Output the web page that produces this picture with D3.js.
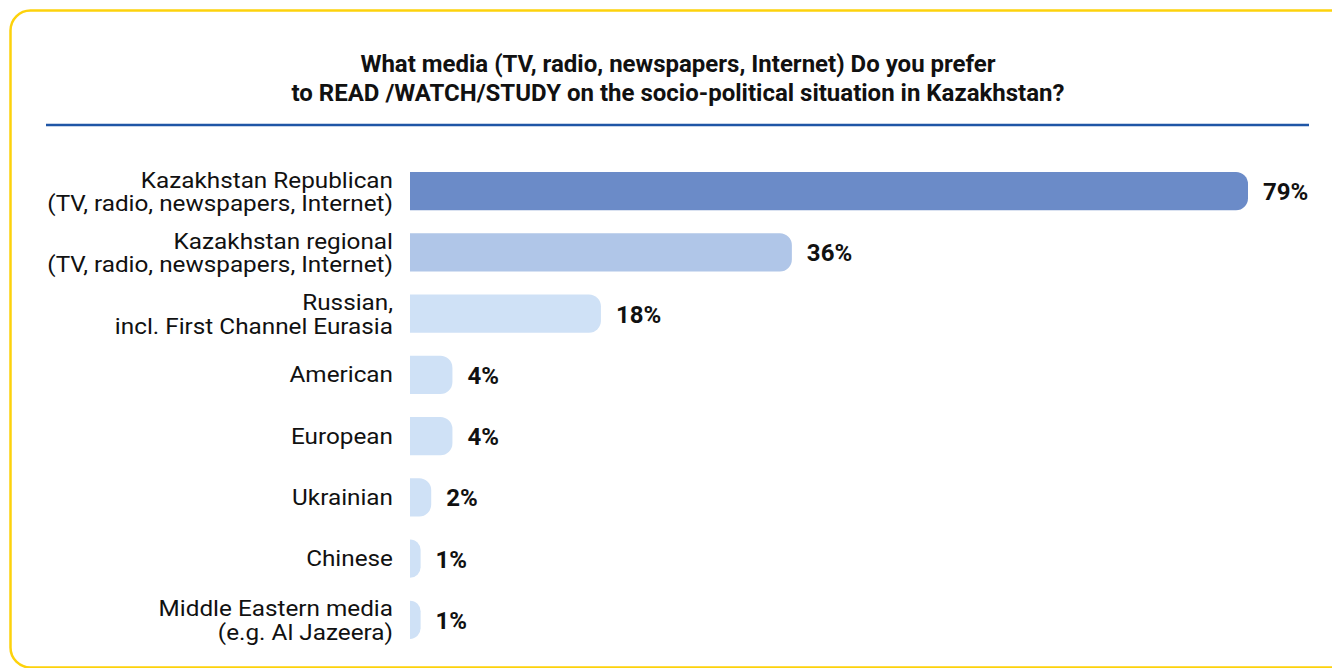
<!DOCTYPE html>
<html>
<head>
<meta charset="utf-8">
<script src="https://cdn.jsdelivr.net/npm/d3@7"></script>
<style>
  html, body { margin: 0; padding: 0; background: #ffffff; }
  svg { display: block; font-family: Roboto, "Noto Sans", sans-serif; }
</style>
</head>
<body>
<svg id="chart" width="1332" height="668"></svg>
<script>
// Survey answers: media preferred for following the socio-political situation
const categories = [
  ["Kazakhstan Republican", "(TV, radio, newspapers, Internet)"],
  ["Kazakhstan regional", "(TV, radio, newspapers, Internet)"],
  ["Russian,", "incl. First Channel Eurasia"],
  ["American"],
  ["European"],
  ["Ukrainian"],
  ["Chinese"],
  ["Middle Eastern media", "(e.g. Al Jazeera)"]
];
const values = [79, 36, 18, 4, 4, 2, 1, 1];
const titleLines = [
  "What media (TV, radio, newspapers, Internet) Do you prefer",
  "to READ /WATCH/STUDY on the socio-political situation in Kazakhstan?"
];
const barColors = ["#6b8bc8", "#b0c6e8", "#cfe1f6", "#cfe1f6", "#cfe1f6", "#cfe1f6", "#cfe1f6", "#cfe1f6"];

const svg = d3.select("#chart");
const W = 1332, H = 668;

// Rounded yellow frame
svg.append("rect")
  .attr("x", 10.5).attr("y", 10.5)
  .attr("width", W + 40).attr("height", H - 11)
  .attr("rx", 20).attr("ry", 20)
  .attr("fill", "none")
  .attr("stroke", "#fdd20c")
  .attr("stroke-width", 2.5);

// Title
const title = svg.append("text")
  .attr("text-anchor", "middle")
  .attr("font-weight", 700)
  .attr("font-size", 24)
  .attr("fill", "#111");
titleLines.forEach((t, i) => {
  title.append("tspan").attr("x", 678).attr("y", 72 + i * 29).text(t);
});

// Blue rule under the title
svg.append("line")
  .attr("x1", 46).attr("x2", 1309)
  .attr("y1", 125).attr("y2", 125)
  .attr("stroke", "#1f56a6")
  .attr("stroke-width", 2.5);

// Scales
const x0 = 410;
const x = d3.scaleLinear().domain([0, 79]).range([x0, 1248]);
const idx = d3.range(categories.length);
const y = d3.scaleBand().domain(idx).range([161, 650]).paddingInner(0.375).paddingOuter(0.18);

const g = svg.append("g");

// Category axis: labels only, possibly on two lines, set in a slightly wide face
const yAxis = d3.axisLeft(y).tickSize(0).tickPadding(0).tickFormat(() => "");
const axisG = g.append("g").attr("transform", `translate(${x0 - 17},0)`).call(yAxis);
axisG.select(".domain").remove();
axisG.selectAll(".tick text").each(function(d) {
  const lines = categories[d];
  const t = d3.select(this)
    .attr("font-size", 21.5)
    .attr("transform", "scale(1.13,1)")
    .attr("font-family", "Roboto, sans-serif")
    .attr("fill", "#111")
    .attr("text-anchor", "end")
    .attr("dy", null);
  if (lines.length === 1) {
    t.append("tspan").attr("x", 0).attr("y", 7.5).text(lines[0]);
  } else {
    lines.forEach((ln, i) => {
      t.append("tspan").attr("x", 0).attr("y", -3.5 + i * 23.5).text(ln);
    });
  }
});

// Bars with rounded right end, square left end
function barPath(x1, y1, w, h, r) {
  r = Math.min(r, w, h / 2);
  return `M${x1},${y1}H${x1 + w - r}A${r},${r} 0 0 1 ${x1 + w},${y1 + r}` +
         `V${y1 + h - r}A${r},${r} 0 0 1 ${x1 + w - r},${y1 + h}H${x1}Z`;
}
g.selectAll("path.bar").data(idx).join("path")
  .attr("class", "bar")
  .attr("fill", d => barColors[d])
  .attr("d", d => barPath(x0, y(d), x(values[d]) - x0, y.bandwidth(), 12));

// Value labels
g.selectAll("text.val").data(idx).join("text")
  .attr("class", "val")
  .attr("x", d => x(values[d]) + 15)
  .attr("y", d => y(d) + y.bandwidth() / 2 + 9)
  .attr("font-size", 24)
  .attr("font-weight", 700)
  .attr("fill", "#111")
  .text(d => values[d] + "%");
</script>
</body>
</html>
